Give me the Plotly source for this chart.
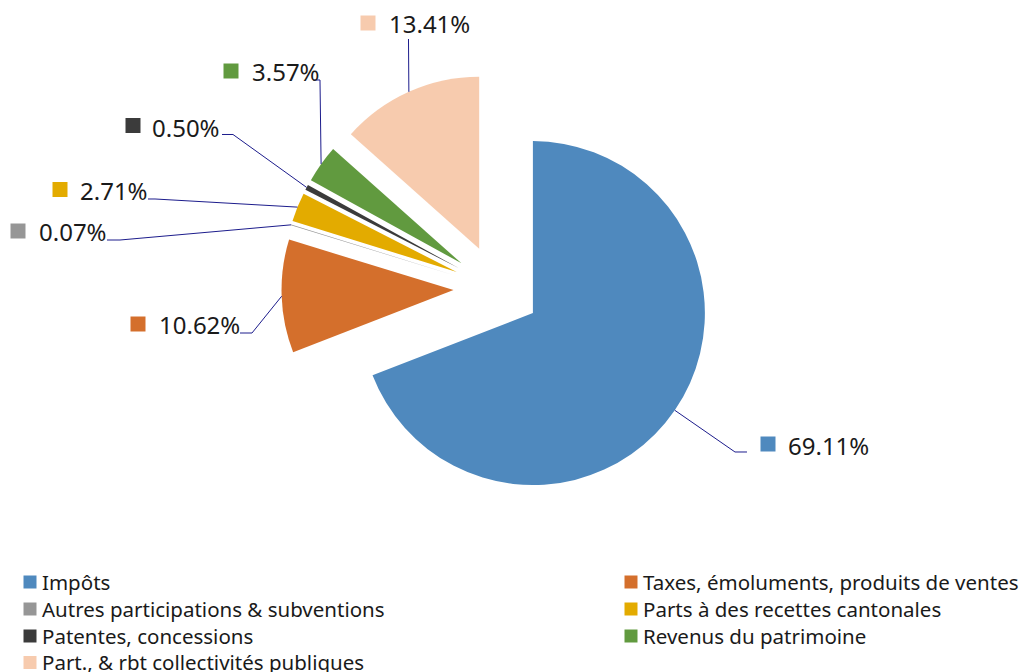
import math
import plotly.graph_objects as go

# the page puts the figure 8px in from the top-left corner of the window
OFF = 8
W, H = 1027 - OFF, 672 - OFF

labels = [
    "Impôts",
    "Taxes, émoluments, produits de ventes",
    "Autres participations & subventions",
    "Parts à des recettes cantonales",
    "Patentes, concessions",
    "Revenus du patrimoine",
    "Part., & rbt collectivités publiques",
]
shares = [69.11, 10.62, 0.07, 2.71, 0.50, 3.57, 13.41]
colors = ["#4F89BE", "#D46F2C", "#969696", "#E3AB00", "#3B3B3B", "#619A3F", "#F7CBAE"]

# label placement in window pixels: leader elbow points, square centre, text left / middle
label_pos = [
    dict(path=[(735, 452), (747, 452)], sq=(768, 444), txt=(786, 445)),
    dict(path=[(252, 333), (240, 333)], sq=(138, 324), txt=(157, 325)),
    dict(path=[(120, 240), (107, 240)], sq=(18, 231), txt=(37, 232)),
    dict(path=[(155, 199), (148, 199)], sq=(60, 189.5), txt=(78, 190)),
    dict(path=[(233, 134.5), (222, 134.5)], sq=(133, 125.5), txt=(150, 127)),
    dict(path=[(320, 80), (313, 80)], sq=(231, 71), txt=(250, 72)),
    dict(path=[(408.5, 39)], sq=(368, 23), txt=(387, 24)),
]

# legend grid (window pixels): two columns, four rows
legend_cols = [30, 631]
legend_rows = [582, 609, 636, 662.5]


def paper(x, y):
    return (x - OFF) / W, 1 - (y - OFF) / H


pull = 0.253
x0d, y1d = paper(281.5, 73)
x1d, y0d = paper(712.5, 504)
dom_x, dom_y = [x0d, x1d], [y0d, y1d]

fig = go.Figure(go.Pie(
    labels=labels,
    values=shares,
    sort=False,
    direction="clockwise",
    rotation=0,
    pull=[pull] * len(shares),
    marker=dict(colors=colors, line=dict(width=0)),
    textinfo="none",
    hoverinfo="label+percent",
    domain=dict(x=dom_x, y=dom_y),
    showlegend=False,
))

# leader lines start on the mid-angle of each exploded slice (figure pixels)
cx = W * sum(dom_x) / 2
cy = H * (1 - sum(dom_y) / 2)
R = min(W * (dom_x[1] - dom_x[0]), H * (dom_y[1] - dom_y[0])) / 2
total = sum(shares)
cum = 0
shapes, annotations = [], []


def square(xc, yc, size, col):
    a, b = paper(xc - size / 2, yc + size / 2)
    c, d = paper(xc + size / 2, yc - size / 2)
    return dict(type="rect", xref="paper", yref="paper", x0=a, y0=b, x1=c, y1=d,
                fillcolor=col, line=dict(width=0))


for v, col, pos in zip(shares, colors, label_pos):
    mid = (cum + v / 2) / total * 2 * math.pi
    cum += v
    ax, ay = cx + R * math.sin(mid) + OFF, cy - R * math.cos(mid) + OFF
    pts = [paper(ax, ay)] + [paper(*p) for p in pos["path"]]
    d = "M " + " L ".join(f"{x:.5f},{y:.5f}" for x, y in pts)
    shapes.append(dict(type="path", path=d, xref="paper", yref="paper",
                       line=dict(color="#1C1C8C", width=1)))
    shapes.append(square(*pos["sq"], 15, col))
    tx, ty = paper(*pos["txt"])
    annotations.append(dict(text=f"{v:.2f}%", x=tx, y=ty, xref="paper", yref="paper",
                            xanchor="left", yanchor="middle", showarrow=False,
                            font=dict(size=24, color="#1a1a1a")))

# legend, laid out row by row like the original
for i, (lab, col) in enumerate(zip(labels, colors)):
    lx = legend_cols[i % 2]
    ly = legend_rows[i // 2]
    shapes.append(square(lx, ly, 13, col))
    tx, ty = paper(lx + 10, ly - 0.5)
    annotations.append(dict(text=lab, x=tx, y=ty, xref="paper", yref="paper",
                            xanchor="left", yanchor="middle", showarrow=False,
                            font=dict(size=20.5, color="#1a1a1a")))

fig.update_layout(
    width=W, height=H,
    margin=dict(l=0, r=0, t=0, b=0, autoexpand=False),
    paper_bgcolor="white",
    font=dict(family="Noto Sans, DejaVu Sans, sans-serif", color="#1a1a1a"),
    shapes=shapes,
    annotations=annotations,
    showlegend=False,
)

fig.write_html("out.html")
